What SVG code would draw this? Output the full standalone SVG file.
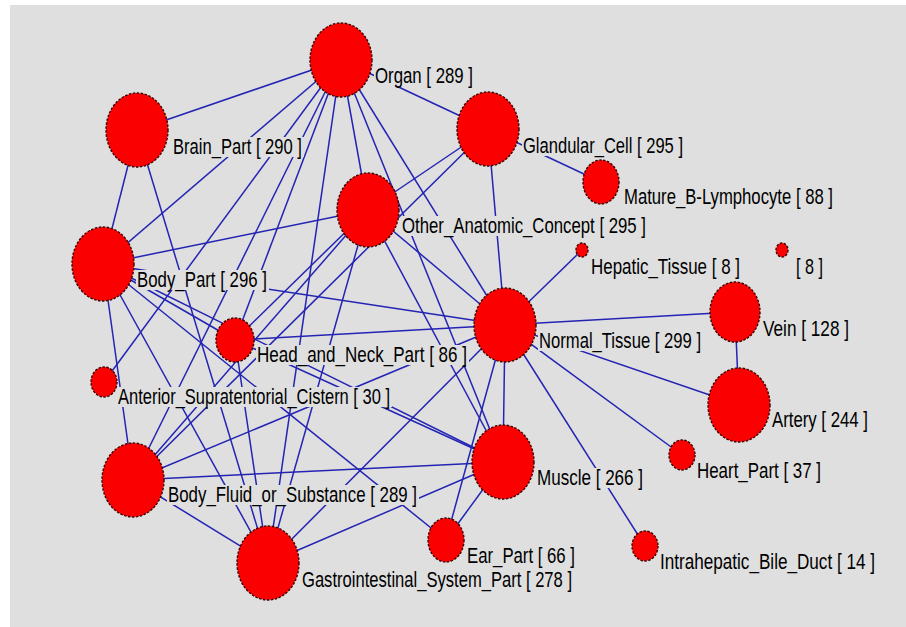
<svg xmlns="http://www.w3.org/2000/svg" width="906" height="627" viewBox="0 0 906 627">
<style>
.bg{fill:#dfdfdf}
.e line{stroke:#2424b4;stroke-width:1.5;fill:none}
.n{fill:#fb0000;stroke:#3a0000;stroke-width:1.4;stroke-dasharray:2.5 1.5}
.lb{fill:#dfdfdf}
.t{font-family:"Liberation Sans",Arial,sans-serif;font-size:22px;fill:#000}
</style>
<rect x="0" y="0" width="906" height="627" fill="#ffffff"/>
<rect class="bg" x="10" y="5" width="896" height="622"/>
<g id="connectors" class="e">
<line x1="341" y1="60" x2="137" y2="130"/>
<line x1="341" y1="60" x2="488" y2="129"/>
<line x1="341" y1="60" x2="368" y2="210"/>
<line x1="341" y1="60" x2="103" y2="264"/>
<line x1="341" y1="60" x2="235" y2="340"/>
<line x1="341" y1="60" x2="104" y2="382"/>
<line x1="341" y1="60" x2="505" y2="325"/>
<line x1="341" y1="60" x2="503" y2="462"/>
<line x1="341" y1="60" x2="133" y2="480"/>
<line x1="341" y1="60" x2="268" y2="563"/>
<line x1="137" y1="130" x2="103" y2="264"/>
<line x1="137" y1="130" x2="268" y2="563"/>
<line x1="488" y1="129" x2="601" y2="182"/>
<line x1="488" y1="129" x2="368" y2="210"/>
<line x1="488" y1="129" x2="505" y2="325"/>
<line x1="488" y1="129" x2="133" y2="480"/>
<line x1="368" y1="210" x2="103" y2="264"/>
<line x1="368" y1="210" x2="235" y2="340"/>
<line x1="368" y1="210" x2="505" y2="325"/>
<line x1="368" y1="210" x2="503" y2="462"/>
<line x1="368" y1="210" x2="133" y2="480"/>
<line x1="368" y1="210" x2="268" y2="563"/>
<line x1="103" y1="264" x2="235" y2="340"/>
<line x1="103" y1="264" x2="505" y2="325"/>
<line x1="103" y1="264" x2="503" y2="462"/>
<line x1="103" y1="264" x2="446" y2="540"/>
<line x1="103" y1="264" x2="133" y2="480"/>
<line x1="103" y1="264" x2="268" y2="563"/>
<line x1="235" y1="340" x2="505" y2="325"/>
<line x1="235" y1="340" x2="503" y2="462"/>
<line x1="235" y1="340" x2="268" y2="563"/>
<line x1="505" y1="325" x2="582" y2="250"/>
<line x1="505" y1="325" x2="735" y2="312"/>
<line x1="505" y1="325" x2="739" y2="405"/>
<line x1="505" y1="325" x2="682" y2="455"/>
<line x1="505" y1="325" x2="503" y2="462"/>
<line x1="505" y1="325" x2="446" y2="540"/>
<line x1="505" y1="325" x2="645" y2="546"/>
<line x1="505" y1="325" x2="133" y2="480"/>
<line x1="505" y1="325" x2="268" y2="563"/>
<line x1="735" y1="312" x2="739" y2="405"/>
<line x1="503" y1="462" x2="446" y2="540"/>
<line x1="503" y1="462" x2="133" y2="480"/>
<line x1="503" y1="462" x2="268" y2="563"/>
<line x1="133" y1="480" x2="268" y2="563"/>
</g>
<g id="organ"><ellipse class="n" cx="341" cy="60" rx="31" ry="37"/><rect class="lb" x="374" y="66" width="101" height="20"/><text class="t" transform="translate(375,83) scale(0.76,1)" textLength="128.9" lengthAdjust="spacingAndGlyphs">Organ [ 289 ]</text></g>
<g id="brain_part"><ellipse class="n" cx="137" cy="130" rx="31" ry="37"/><rect class="lb" x="172" y="137" width="132" height="20"/><text class="t" transform="translate(173,154) scale(0.76,1)" textLength="169.7" lengthAdjust="spacingAndGlyphs">Brain_Part [ 290 ]</text></g>
<g id="glandular_cell"><ellipse class="n" cx="488" cy="129" rx="31" ry="37"/><rect class="lb" x="522" y="136" width="163" height="20"/><text class="t" transform="translate(523,153) scale(0.76,1)" textLength="210.5" lengthAdjust="spacingAndGlyphs">Glandular_Cell [ 295 ]</text></g>
<g id="mature_b_lymphocyte"><ellipse class="n" cx="601" cy="182" rx="18" ry="22"/><rect class="lb" x="623" y="187" width="212" height="20"/><text class="t" transform="translate(624,204) scale(0.76,1)" textLength="275" lengthAdjust="spacingAndGlyphs">Mature_B-Lymphocyte [ 88 ]</text></g>
<g id="other_anatomic_concept"><ellipse class="n" cx="368" cy="210" rx="31" ry="37"/><rect class="lb" x="401" y="216" width="247" height="20"/><text class="t" transform="translate(402,233) scale(0.76,1)" textLength="321" lengthAdjust="spacingAndGlyphs">Other_Anatomic_Concept [ 295 ]</text></g>
<g id="hepatic_tissue"><ellipse class="n" cx="582" cy="250" rx="6" ry="7"/><rect class="lb" x="590" y="257" width="152" height="20"/><text class="t" transform="translate(591,274) scale(0.76,1)" textLength="196" lengthAdjust="spacingAndGlyphs">Hepatic_Tissue [ 8 ]</text></g>
<g id="unnamed_8"><ellipse class="n" cx="782" cy="250" rx="6" ry="7"/><rect class="lb" x="795" y="257" width="30" height="20"/><text class="t" transform="translate(796,274) scale(0.76,1)" textLength="35.5" lengthAdjust="spacingAndGlyphs">[ 8 ]</text></g>
<g id="body_part"><ellipse class="n" cx="103" cy="264" rx="31" ry="37"/><rect class="lb" x="136" y="270" width="133" height="20"/><text class="t" transform="translate(137,287) scale(0.76,1)" textLength="171" lengthAdjust="spacingAndGlyphs">Body_Part [ 296 ]</text></g>
<g id="head_and_neck_part"><ellipse class="n" cx="235" cy="340" rx="19" ry="22"/><rect class="lb" x="256" y="345" width="213" height="20"/><text class="t" transform="translate(257,362) scale(0.76,1)" textLength="276.3" lengthAdjust="spacingAndGlyphs">Head_and_Neck_Part [ 86 ]</text></g>
<g id="anterior_supratentorial_cistern"><ellipse class="n" cx="104" cy="382" rx="13" ry="15"/><rect class="lb" x="117" y="387" width="275" height="20"/><text class="t" transform="translate(118,404) scale(0.76,1)" textLength="357.9" lengthAdjust="spacingAndGlyphs">Anterior_Supratentorial_Cistern [ 30 ]</text></g>
<g id="normal_tissue"><ellipse class="n" cx="505" cy="325" rx="31" ry="37"/><rect class="lb" x="538" y="331" width="165" height="20"/><text class="t" transform="translate(539,348) scale(0.76,1)" textLength="213.2" lengthAdjust="spacingAndGlyphs">Normal_Tissue [ 299 ]</text></g>
<g id="vein"><ellipse class="n" cx="735" cy="312" rx="25" ry="30"/><rect class="lb" x="762" y="319" width="89" height="20"/><text class="t" transform="translate(763,336) scale(0.76,1)" textLength="113.2" lengthAdjust="spacingAndGlyphs">Vein [ 128 ]</text></g>
<g id="artery"><ellipse class="n" cx="739" cy="405" rx="31" ry="37"/><rect class="lb" x="771" y="410" width="99" height="20"/><text class="t" transform="translate(772,427) scale(0.76,1)" textLength="126.3" lengthAdjust="spacingAndGlyphs">Artery [ 244 ]</text></g>
<g id="heart_part"><ellipse class="n" cx="682" cy="455" rx="13" ry="15"/><rect class="lb" x="696" y="461" width="127" height="20"/><text class="t" transform="translate(697,478) scale(0.76,1)" textLength="163.2" lengthAdjust="spacingAndGlyphs">Heart_Part [ 37 ]</text></g>
<g id="muscle"><ellipse class="n" cx="503" cy="462" rx="31" ry="37"/><rect class="lb" x="536" y="468" width="109" height="20"/><text class="t" transform="translate(537,485) scale(0.76,1)" textLength="139.5" lengthAdjust="spacingAndGlyphs">Muscle [ 266 ]</text></g>
<g id="ear_part"><ellipse class="n" cx="446" cy="540" rx="18" ry="22"/><rect class="lb" x="466" y="546" width="111" height="20"/><text class="t" transform="translate(467,563) scale(0.76,1)" textLength="142.1" lengthAdjust="spacingAndGlyphs">Ear_Part [ 66 ]</text></g>
<g id="intrahepatic_bile_duct"><ellipse class="n" cx="645" cy="546" rx="13" ry="15"/><rect class="lb" x="659" y="552" width="218" height="20"/><text class="t" transform="translate(660,569) scale(0.76,1)" textLength="282.9" lengthAdjust="spacingAndGlyphs">Intrahepatic_Bile_Duct [ 14 ]</text></g>
<g id="body_fluid_or_substance"><ellipse class="n" cx="133" cy="480" rx="31" ry="37"/><rect class="lb" x="167" y="485" width="252" height="20"/><text class="t" transform="translate(168,502) scale(0.76,1)" textLength="327.6" lengthAdjust="spacingAndGlyphs">Body_Fluid_or_Substance [ 289 ]</text></g>
<g id="gastrointestinal_system_part"><ellipse class="n" cx="268" cy="563" rx="31" ry="37"/><rect class="lb" x="301" y="570" width="273" height="20"/><text class="t" transform="translate(302,587) scale(0.76,1)" textLength="355.3" lengthAdjust="spacingAndGlyphs">Gastrointestinal_System_Part [ 278 ]</text></g>
</svg>
